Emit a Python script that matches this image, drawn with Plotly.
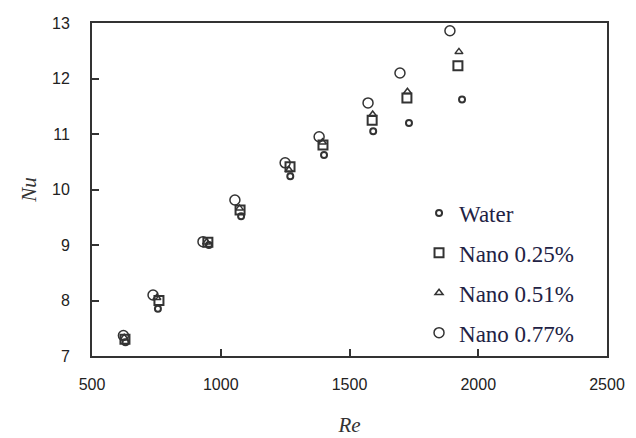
import plotly.graph_objects as go

series_names = ["Water", "Nano 0.25%", "Nano 0.51%", "Nano 0.77%"]
re_water = [630, 756, 954, 1079, 1270, 1401, 1592, 1731, 1937]
nu_water = [7.25, 7.85, 9.00, 9.52, 10.24, 10.62, 11.05, 11.20, 11.62]
re_025 = [628, 760, 950, 1075, 1269, 1397, 1588, 1723, 1921]
nu_025 = [7.30, 8.00, 9.05, 9.63, 10.41, 10.80, 11.25, 11.65, 12.23]
re_051 = [625, 752, 945, 1073, 1265, 1395, 1590, 1725, 1925]
nu_051 = [7.33, 8.05, 9.05, 9.66, 10.35, 10.85, 11.35, 11.76, 12.48]
re_077 = [622, 737, 931, 1055, 1250, 1382, 1572, 1696, 1890]
nu_077 = [7.37, 8.10, 9.06, 9.81, 10.48, 10.95, 11.56, 12.10, 12.86]

x_ticks = [500, 1000, 1500, 2000, 2500]
y_ticks = [7, 8, 9, 10, 11, 12, 13]

styles = [
    ("circle-open", 6, 2),
    ("square-open", 9, 2),
    ("triangle-up-open", 7, 1.5),
    ("circle-open", 10, 1.5),
]
data = [(re_water, nu_water), (re_025, nu_025), (re_051, nu_051), (re_077, nu_077)]

fig = go.Figure()
for i, (name, (xs, ys), (sym, sz, lw)) in enumerate(zip(series_names, data, styles)):
    fig.add_trace(go.Scatter(
        x=xs, y=ys, mode="markers", name=name, legendgroup=f"g{i}",
        marker=dict(symbol=sym, size=sz, color="#333333", line=dict(width=lw, color="#333333")),
    ))

axis_common = dict(
    showgrid=False, zeroline=False, showline=True, linecolor="#333333", linewidth=2,
    mirror=True, ticks="inside", ticklen=7, tickwidth=1.5, tickcolor="#333333",
    tickfont=dict(family="Liberation Sans, Arial", size=16, color="#222222"),
    automargin=False,
)

title_font = dict(family="Liberation Serif, Times New Roman", size=21, color="#333333")

fig.update_layout(
    width=636, height=438,
    margin=dict(l=84, r=37, t=15, b=90, autoexpand=False),
    paper_bgcolor="white", plot_bgcolor="white",
    xaxis=dict(range=[500, 2500], tickvals=x_ticks, ticklabelstandoff=13,
               title=dict(text="<i>Re</i>", font=title_font, standoff=25),
               **axis_common),
    yaxis=dict(range=[7, 13], tickvals=y_ticks, ticklabelstandoff=17,
               title=dict(text="<i>Nu</i>", font=title_font, standoff=10),
               **axis_common),
    legend=dict(x=0.635, y=0.494, xanchor="left", yanchor="top", bgcolor="rgba(0,0,0,0)",
                font=dict(family="Liberation Serif, Times New Roman", size=23, color="#222244"),
                traceorder="grouped", tracegroupgap=7, itemwidth=30),
    showlegend=True,
)

fig.write_html("out.html")
